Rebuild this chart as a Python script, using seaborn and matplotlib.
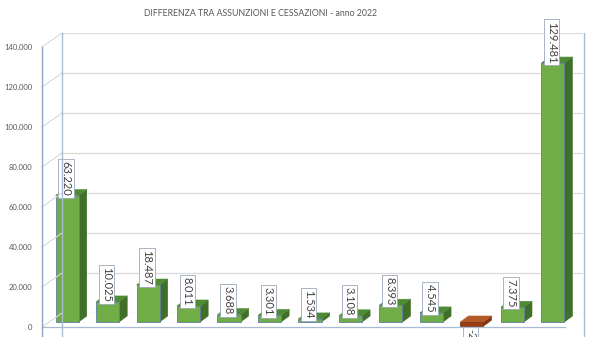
import matplotlib
matplotlib.use("Agg")
import matplotlib.pyplot as plt
from matplotlib.patches import Polygon
from matplotlib.lines import Line2D
import seaborn as sns
import pandas as pd

# Saldo assunzioni - cessazioni per comparto (anno 2022)
categories = ["A", "B", "C", "D", "E", "F", "G", "H", "I", "J", "K", "L", "Totale"]
values = [63220, 10025, 18487, 8011, 3688, 3301, 1534, 3108, 8393, 4545, -2100, 7375, 129481]
y_ticks = [0, 20000, 40000, 60000, 80000, 100000, 120000, 140000]
title = "DIFFERENZA TRA ASSUNZIONI E CESSAZIONI - anno 2022"

sns.set_theme(style="white")
plt.rcParams["font.family"] = ["Lato", "DejaVu Sans"]

W, H = 600, 337
fig = plt.figure(figsize=(W / 100, H / 100), dpi=100)


def rect(x0, y_top, x1, y_bot):
    """Axes rectangle from pixel box (origin at top-left)."""
    return [x0 / W, 1 - y_bot / H, (x1 - x0) / W, (y_bot - y_top) / H]


def pline(x0, y0, x1, y1, color, lw=0.8, z=0):
    fig.add_artist(Line2D([x0 / W, x1 / W], [1 - y0 / H, 1 - y1 / H],
                          color=color, lw=lw, zorder=z))


# back wall with gridlines
axb = fig.add_axes(rect(62, 33, 583, 313))
axb.set_ylim(0, 140000)
axb.set_yticks(y_ticks)
axb.set_xticks([])
axb.yaxis.grid(True, color="#D9D9D9", lw=0.9)
axb.tick_params(left=False, labelleft=False)
for s in axb.spines.values():
    s.set_visible(False)
axb.patch.set_alpha(0)

# front axis with tick labels
axf = fig.add_axes(rect(42, 47, 565, 327))
axf.set_ylim(0, 140000)
axf.set_yticks(y_ticks)
axf.set_yticklabels([f"{t:,}".replace(",", ".") for t in y_ticks],
                    fontsize=5.5, color="#595959")
axf.tick_params(axis="y", length=0, pad=7)
axf.set_xticks([])
for s in axf.spines.values():
    s.set_visible(False)
axf.patch.set_alpha(0)

# wall / floor edges
edge_col = "#8FA5C2"
pline(42, 47, 42, 337, edge_col, 1.0, 3)
pline(62, 33, 62, 337, "#A9BBD3", 1.0, 0.5)
pline(584, 33, 584, 337, "#A9BBD3", 1.0, 0.5)
pline(42, 327, 565, 327, "#A9BBD3", 0.9, 0.5)
for t in y_ticks:
    yf = 327 - t / 500
    pline(42, yf, 62, yf - 14, "#D9D9D9", 0.8, 0.4)

# bars
ax = fig.add_axes(rect(42, 42, 565, 322))
df = pd.DataFrame({"cat": categories, "val": values})
bar_w = 0.57
sns.barplot(data=df, x="cat", y="val", ax=ax, width=bar_w,
            color="#70AD47", saturation=1, edgecolor="#5E7FA0", linewidth=0.6,
            zorder=3)
ax.set_xlim(-0.62, 12.3)
ax.set_ylim(0, 140000)
ax.set_axis_off()
ax.patch.set_alpha(0)
for c in ax.collections:
    c.set_clip_on(False)

dx, dy = 0.2, 3000
for p, v in zip(ax.patches, values):
    p.set_clip_on(False)
    x0 = p.get_x()
    x1 = x0 + p.get_width()
    if v >= 0:
        front_top, front_bot = v, 0
        side_c, top_c = "#3F6F29", "#4F8B35"
    else:
        front_top, front_bot = 0, v
        p.set_facecolor("#9A3D10")
        p.set_edgecolor("#7A3010")
        side_c, top_c = "#7F330E", "#B5582A"
    side = Polygon([(x1, front_bot), (x1 + dx, front_bot + dy),
                    (x1 + dx, front_top + dy), (x1, front_top)],
                   closed=True, fc=side_c, ec=side_c, lw=0.4, zorder=2.9,
                   clip_on=False)
    top = Polygon([(x0, front_top), (x0 + dx, front_top + dy),
                   (x1 + dx, front_top + dy), (x1, front_top)],
                  closed=True, fc=top_c, ec=top_c, lw=0.4, zorder=2.9,
                  clip_on=False)
    ax.add_patch(side)
    ax.add_patch(top)

    xc = x0 + p.get_width() / 2 - 0.03
    label = f"{abs(v):,}".replace(",", ".")
    if v < 0:
        label = "-" + label
    ax.text(xc, v if v >= 0 else v - 1500, label, rotation=-90,
            ha="center", va="bottom" if v >= 0 else "top",
            fontsize=8, color="#404040", zorder=5, clip_on=False,
            bbox=dict(boxstyle="square,pad=0.2", fc="white",
                      ec="#9AA8B8", lw=0.6))

fig.text(261 / W, 1 - 14 / H, title, ha="center", va="center",
         fontsize=6.3, color="#595959")

fig.savefig("out.png", dpi=100, facecolor="white")
